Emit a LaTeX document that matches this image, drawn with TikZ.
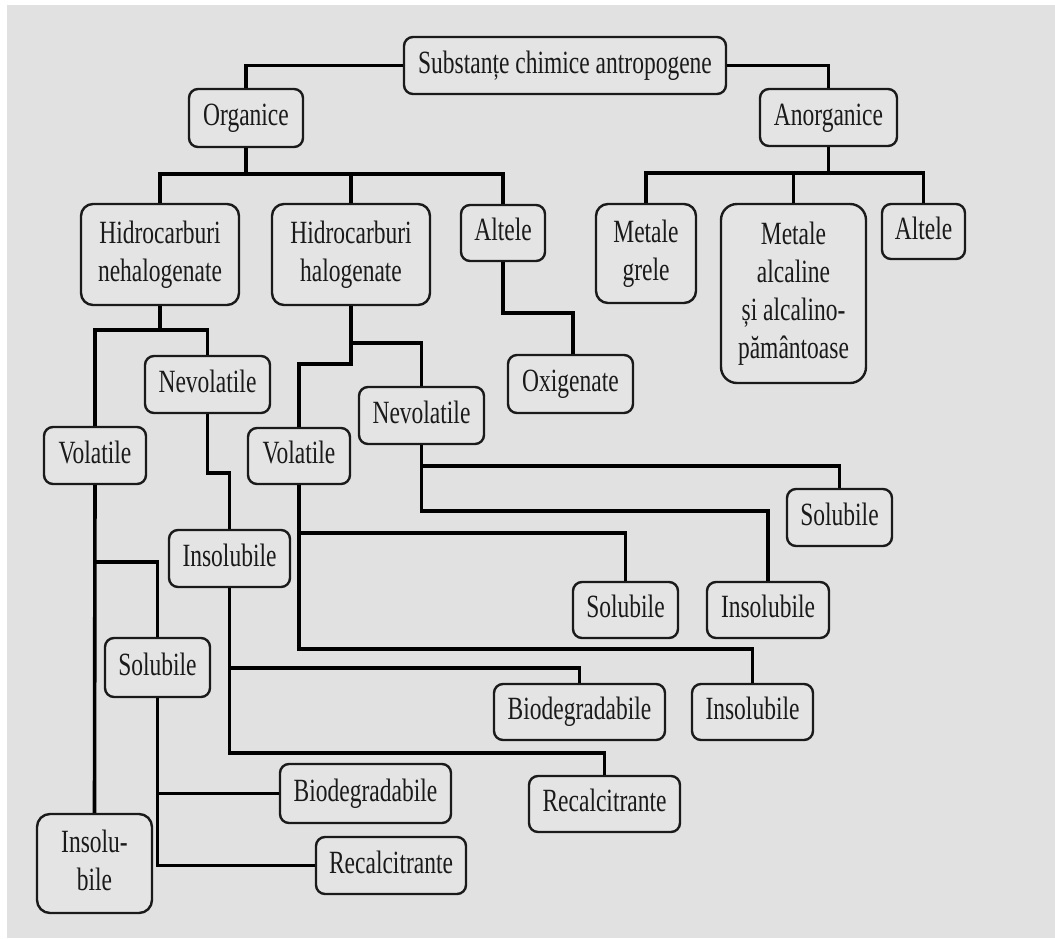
\documentclass[tikz,border=0pt]{standalone}
\usepackage{fontspec}
\usepackage{graphicx}
\setmainfont{Liberation Serif}
\definecolor{bggray}{HTML}{E1E1E1}
\definecolor{boxfill}{HTML}{E4E4E4}
\definecolor{ink}{HTML}{1A1A1A}
\newcommand{\tx}[1]{\scalebox{1}[1.38]{\begin{tabular}{@{}c@{}}#1\end{tabular}}}
\begin{document}
\begin{tikzpicture}[x=1pt,y=-1pt,
  box/.style={draw=ink, line width=2.4pt, fill=boxfill, rounded corners=9pt,
    inner sep=0pt, text=ink, font=\fontsize{23.5}{27.5}\selectfont},
  bigbox/.style={box, rounded corners=16pt},
  conn/.style={draw=black, line width=3.6pt}]
\useasboundingbox (0,0) rectangle (1055,938);
\fill[white] (0,0) rectangle (1055,938);
\fill[bggray] (7,5) rectangle (1055,938);

% nodes
\node[box, minimum width=322pt, minimum height=57pt] (sub) at (565,65.5) {\tx{Substanțe chimice antropogene}};
\node[box, minimum width=114pt, minimum height=58pt] (org) at (246,118) {\tx{Organice}};
\node[box, minimum width=137pt, minimum height=57pt] (anorg) at (828.5,117.5) {\tx{Anorganice}};
\node[box, rounded corners=12pt, minimum width=158pt, minimum height=101pt] (hn) at (160,254.5) {\tx{Hidrocarburi\\nehalogenate}};
\node[box, rounded corners=12pt, minimum width=158pt, minimum height=101pt] (hh) at (351,254.5) {\tx{Hidrocarburi\\halogenate}};
\node[box, minimum width=84pt, minimum height=56pt] (alt1) at (503,233) {\tx{Altele}};
\node[box, rounded corners=12pt, minimum width=100pt, minimum height=99pt] (mg) at (646,253.5) {\tx{Metale\\grele}};
\node[bigbox, minimum width=145pt, minimum height=179pt] (ma) at (793.5,293.5) {\tx{Metale\\alcaline\\și alcalino-\\pământoase}};
\node[box, minimum width=83pt, minimum height=55pt] (alt2) at (923.5,231.5) {\tx{Altele}};
\node[box, minimum width=125pt, minimum height=58pt] (oxi) at (570.5,384) {\tx{Oxigenate}};
\node[box, minimum width=125pt, minimum height=57pt] (nevL) at (207.5,384.5) {\tx{Nevolatile}};
\node[box, minimum width=102pt, minimum height=57pt] (volL) at (95,455.5) {\tx{Volatile}};
\node[box, minimum width=125pt, minimum height=57pt] (nevR) at (421.5,415.5) {\tx{Nevolatile}};
\node[box, minimum width=102pt, minimum height=56pt] (volR) at (299,456) {\tx{Volatile}};
\node[box, minimum width=121pt, minimum height=57pt] (insM) at (229.5,558.5) {\tx{Insolubile}};
\node[box, minimum width=105pt, minimum height=57pt] (solR) at (839.5,517.5) {\tx{Solubile}};
\node[box, minimum width=122pt, minimum height=56pt] (insRa) at (768,610) {\tx{Insolubile}};
\node[box, minimum width=105pt, minimum height=56pt] (solM) at (625.5,610) {\tx{Solubile}};
\node[box, minimum width=121pt, minimum height=56pt] (insRb) at (752.5,712) {\tx{Insolubile}};
\node[box, minimum width=171pt, minimum height=56pt] (bioM) at (579.5,712) {\tx{Biodegradabile}};
\node[box, minimum width=105pt, minimum height=59pt] (solL) at (157.5,667.5) {\tx{Solubile}};
\node[box, minimum width=151pt, minimum height=56pt] (recR) at (604.5,804) {\tx{Recalcitrante}};
\node[box, minimum width=171pt, minimum height=59pt] (bioL) at (365.5,793.5) {\tx{Biodegradabile}};
\node[box, minimum width=150pt, minimum height=57pt] (recL) at (391,865.5) {\tx{Recalcitrante}};
\node[box, rounded corners=13pt, minimum width=115pt, minimum height=99pt] (insL) at (94.5,863.5) {\tx{Insolu-\\bile}};

% junctions
\coordinate (j1) at (246,174);
\coordinate (j2) at (828.5,173);
\coordinate (j3) at (160,330);
\coordinate (j4) at (95,562);
\coordinate (j5) at (351,343);
\coordinate (j6) at (351,364);
\coordinate (j7) at (421.5,466);
\coordinate (j8) at (421.5,511);
\coordinate (j9) at (299,533);
\coordinate (j10) at (299,649);
\coordinate (j11) at (229.5,668);
\coordinate (j12) at (229.5,753);
\coordinate (j13) at (503,313);

% connectors
\draw[conn] (sub.west) -| (org.north);
\draw[conn] (sub.east) -| (anorg.north);
\draw[conn] (org.south) -- (j1);
\draw[conn] (hn.north) |- (j1) -| (alt1.north);
\draw[conn] (j1) -| (hh.north);
\draw[conn] (anorg.south) -- (j2);
\draw[conn] (mg.north) |- (j2) -| (alt2.north);
\draw[conn] (j2) -| (ma.north);
\draw[conn] (alt1.south) -- (j13) -| ([xshift=2.5pt]oxi.north);
\draw[conn] (hn.south) -- (j3);
\draw[conn] (volL.north) |- (j3) -| (nevL.north);
\draw[conn] (nevL.south) -- ++(0,59) -| (insM.north);
\draw[conn] (volL.south) -- (insL.north);
\draw[conn] (j4) -| (solL.north);
\draw[conn] (solL.south) |- (recL.west);
\draw[conn] (solL.south) |- (bioL.west);
\draw[conn] (hh.south) -- (j6) -| (volR.north);
\draw[conn] (j5) -| (nevR.north);
\draw[conn] (nevR.south) -- (j8) -| (insRa.north);
\draw[conn] (j7) -| (solR.north);
\draw[conn] (volR.south) -- (j10) -| (insRb.north);
\draw[conn] (j9) -| (solM.north);
\draw[conn] (insM.south) -- (j12) -| (recR.north);
\draw[conn] (j11) -| (bioM.north);
\end{tikzpicture}
\end{document}
